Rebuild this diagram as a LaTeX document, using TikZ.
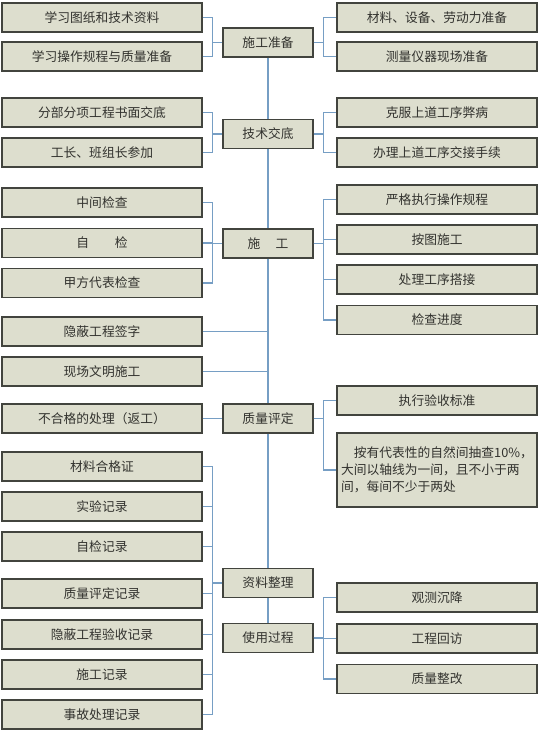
\documentclass[tikz,border=0pt]{standalone}
\usepackage{fontspec}
\setmainfont{Noto Sans CJK SC}
\usetikzlibrary{positioning,shadows}
\definecolor{boxfill}{RGB}{221,222,206}
\definecolor{boxline}{RGB}{66,68,62}
\definecolor{textgray}{RGB}{50,50,46}
\definecolor{linkblue}{RGB}{118,158,196}

\begin{document}
\begin{tikzpicture}[x=1bp,y=-1bp,
	box/.style={draw=boxline,line width=1.1bp,fill=boxfill,minimum height=29bp,inner sep=0pt,text=textgray,font=\fontsize{12.8}{17}\selectfont,drop shadow={shadow xshift=0.9bp,shadow yshift=-0.9bp,fill=boxline,opacity=1}},
	wide/.style={box,minimum width=200bp},
	mid/.style={box,minimum width=90bp},
	link/.style={draw=linkblue,line width=1.2bp}]
	%% page size
	\useasboundingbox (0,0) rectangle (539,733);

	\def\lx{102} % left column
	\def\cx{268} % middle column
	\def\rx{437} % right column

	% middle column
	\node[mid] (prep) at (\cx,42.5) {施工准备};
	\node[mid] (tech) at (\cx,134) {技术交底};
	\node[mid] (build) at (\cx,243.5) {施\hspace{1.2em}工};
	\node[mid] (check) at (\cx,418.5) {质量评定};
	\node[mid] (data) at (\cx,583) {资料整理};
	\node[mid] (use) at (\cx,638) {使用过程};

	% left column
	\node[wide] (prepL1) at (\lx,17.5) {学习图纸和技术资料};
	\node[wide] (prepL2) at (\lx,56.5) {学习操作规程与质量准备};
	\node[wide] (techL1) at (\lx,112.5) {分部分项工程书面交底};
	\node[wide] (techL2) at (\lx,152.5) {工长、班组长参加};
	\node[wide] (buildL1) at (\lx,202.5) {中间检查};
	\node[wide] (buildL2) at (\lx,243) {自\hspace{2em}检};
	\node[wide] (buildL3) at (\lx,283) {甲方代表检查};
	\node[wide] (hide) at (\lx,331.5) {隐蔽工程签字};
	\node[wide] (site) at (\lx,371.5) {现场文明施工};
	\node[wide] (fail) at (\lx,418.5) {不合格的处理（返工）};
	\node[wide] (dataL1) at (\lx,466.5) {材料合格证};
	\node[wide] (dataL2) at (\lx,506.5) {实验记录};
	\node[wide] (dataL3) at (\lx,546.5) {自检记录};
	\node[wide] (dataL4) at (\lx,593.5) {质量评定记录};
	\node[wide] (dataL5) at (\lx,634.5) {隐蔽工程验收记录};
	\node[wide] (dataL6) at (\lx,674.5) {施工记录};
	\node[wide] (dataL7) at (\lx,714.5) {事故处理记录};

	% right column
	\node[wide] (prepR1) at (\rx,17.5) {材料、设备、劳动力准备};
	\node[wide] (prepR2) at (\rx,56.5) {测量仪器现场准备};
	\node[wide] (techR1) at (\rx,112.5) {克服上道工序弊病};
	\node[wide] (techR2) at (\rx,152.5) {办理上道工序交接手续};
	\node[wide] (buildR1) at (\rx,199.5) {严格执行操作规程};
	\node[wide] (buildR2) at (\rx,239.5) {按图施工};
	\node[wide] (buildR3) at (\rx,279.5) {处理工序搭接};
	\node[wide] (buildR4) at (\rx,320) {检查进度};
	\node[wide] (checkR1) at (\rx,400.5) {执行验收标准};
	\node[wide,minimum height=74bp,align=left] (checkR2) at (\rx,470)
		{\hspace{1em}按有代表性的自然间抽查10\%，\\大间以轴线为一间，且不小于两\\间，每间不少于两处};
	\node[wide] (useR1) at (\rx,597.5) {观测沉降};
	\node[wide] (useR2) at (\rx,638.5) {工程回访};
	\node[wide] (useR3) at (\rx,679) {质量整改};

	% trunk
	\draw[link] (prep.south) -- (tech.north) (tech.south) -- (build.north)
		(build.south) -- (check.north) (check.south) -- (data.north) (data.south) -- (use.north);
	\draw[link] (hide.east) -- (hide.east -| build.south);
	\draw[link] (site.east) -- (site.east -| build.south);
	\draw[link] (fail) -- (check);

	% brackets
	\foreach \n in {prepL1,prepL2} \draw[link] (\n.east) -- ++(10,0) |- (prep.west);
	\foreach \n in {techL1,techL2} \draw[link] (\n.east) -- ++(10,0) |- (tech.west);
	\foreach \n in {buildL1,buildL2,buildL3} \draw[link] (\n.east) -- ++(10,0) |- (build.west);
	\foreach \n in {dataL1,dataL2,dataL3,dataL4,dataL5,dataL6,dataL7} \draw[link] (\n.east) -- ++(10,0) |- (data.west);
	\foreach \n in {prepR1,prepR2} \draw[link] (prep.east) -- ++(10,0) |- (\n.west);
	\foreach \n in {techR1,techR2} \draw[link] (tech.east) -- ++(10,0) |- (\n.west);
	\foreach \n in {buildR1,buildR2,buildR3,buildR4} \draw[link] (build.east) -- ++(10,0) |- (\n.west);
	\foreach \n in {checkR1,checkR2} \draw[link] (check.east) -- ++(10,0) |- (\n.west);
	\foreach \n in {useR1,useR2,useR3} \draw[link] (use.east) -- ++(10,0) |- (\n.west);
\end{tikzpicture}
\end{document}
